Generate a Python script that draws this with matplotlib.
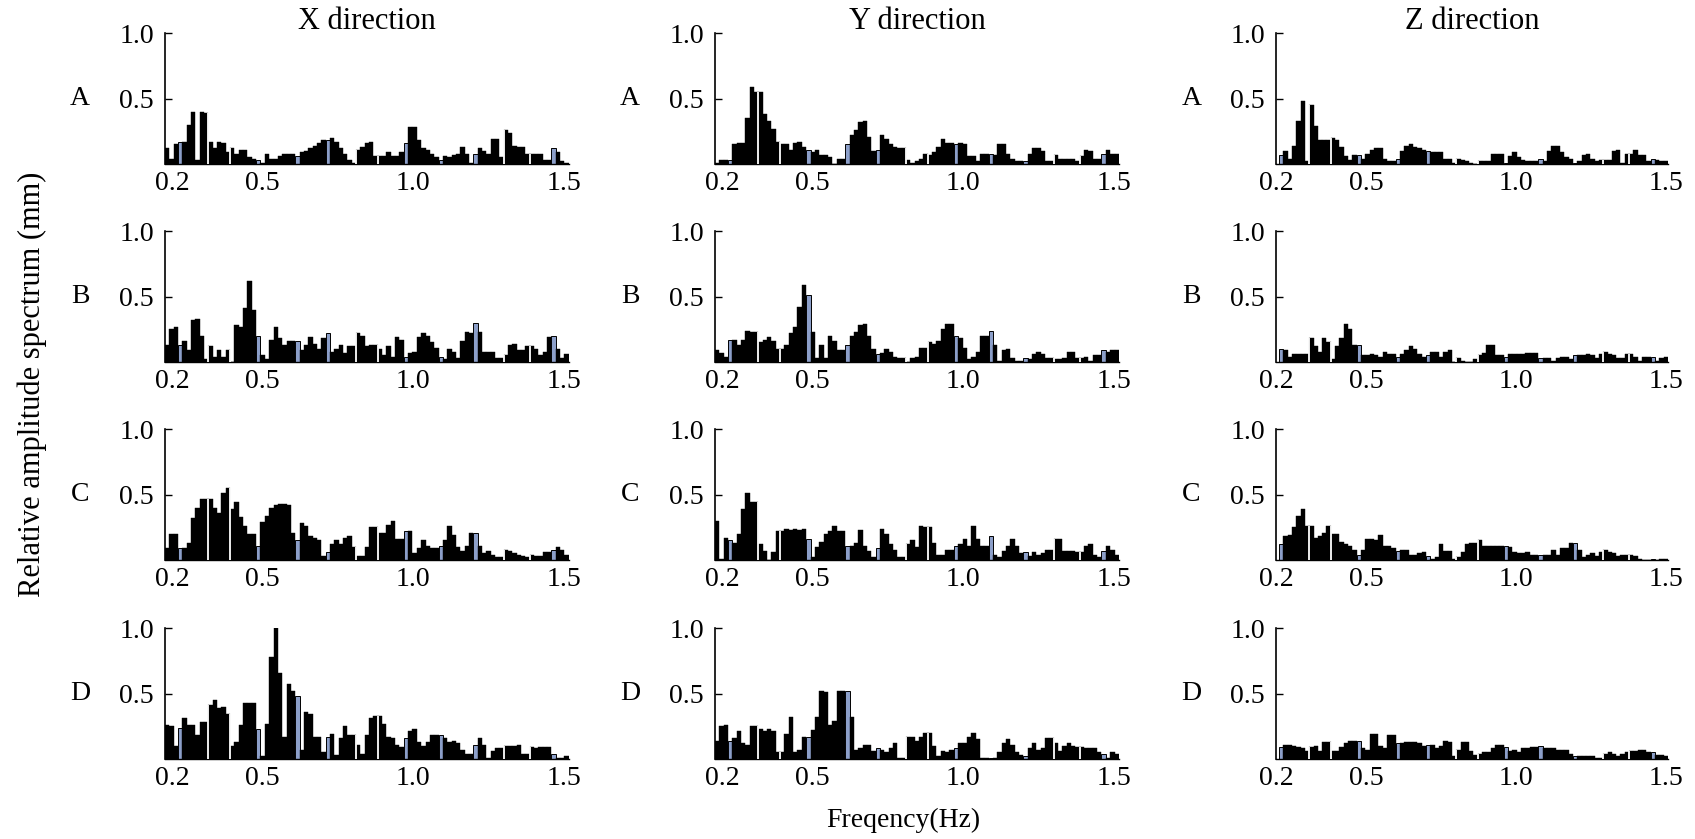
import numpy as np
import matplotlib
matplotlib.use('Agg')
import matplotlib.pyplot as plt

plt.rcParams['font.family'] = ['Liberation Serif', 'DejaVu Serif']

# Spectra, one list per panel (X/Y: 93 bins, Z: 90 bins)
x_a = [0.12, 0.04, 0.15, 0.17,
       0.17, 0.30, 0.40, 0.03, 0.40, 0.39, 0.17, 0.12, 0.17, 0.16, 0.09, 0.12, 0.08, 0.11, 0.11, 0.05, 0.04,
       0.03,
       0.01, 0.08, 0.04, 0.04, 0.06, 0.08, 0.08, 0.08,
       0.06,
       0.09, 0.10, 0.12, 0.14, 0.16, 0.18,
       0.18,
       0.20, 0.17, 0.12, 0.08, 0.03, 0.01, 0.11, 0.13, 0.16, 0.17, 0.06, 0.06, 0.06, 0.09, 0.06, 0.06, 0.09,
       0.16,
       0.28, 0.28, 0.18, 0.12, 0.11, 0.08, 0.05,
       0.03,
       0.06, 0.05, 0.07, 0.08, 0.13, 0.08, 0.01,
       0.08,
       0.12, 0.10, 0.08, 0.19, 0.19, 0.05, 0.26, 0.24, 0.14, 0.13, 0.13, 0.08, 0.08, 0.08, 0.08, 0.03, 0.03,
       0.12,
       0.09, 0.02, 0.01]
x_b = [0.13, 0.25, 0.27, 0.13,
       0.16, 0.09, 0.32, 0.33, 0.20, 0.02, 0.12, 0.04, 0.09, 0.04, 0.09, 0.00, 0.28, 0.27, 0.41, 0.62, 0.40,
       0.20,
       0.05, 0.02, 0.17, 0.27, 0.18, 0.13, 0.16, 0.16,
       0.16,
       0.09, 0.13, 0.19, 0.14, 0.10, 0.18,
       0.22,
       0.08, 0.10, 0.13, 0.07, 0.12, 0.12, 0.22, 0.20, 0.12, 0.13, 0.13, 0.10, 0.05, 0.12, 0.04, 0.19, 0.17,
       0.04,
       0.07, 0.08, 0.19, 0.22, 0.20, 0.15, 0.11,
       0.04,
       0.02, 0.10, 0.08, 0.03, 0.16, 0.23, 0.22,
       0.30,
       0.23, 0.08, 0.08, 0.08, 0.03, 0.03, 0.05, 0.13, 0.14, 0.09, 0.09, 0.12, 0.12, 0.10, 0.05, 0.08, 0.19,
       0.20,
       0.10, 0.03, 0.06]
x_c = [0.09, 0.20, 0.20, 0.09,
       0.09, 0.13, 0.32, 0.40, 0.47, 0.47, 0.47, 0.40, 0.36, 0.51, 0.55, 0.39, 0.44, 0.33, 0.26, 0.20, 0.20,
       0.11,
       0.29, 0.34, 0.40, 0.42, 0.43, 0.43, 0.42, 0.21,
       0.15,
       0.28, 0.26, 0.18, 0.17, 0.15, 0.03,
       0.06,
       0.12, 0.15, 0.12, 0.17, 0.18, 0.10, 0.03, 0.03, 0.10, 0.25, 0.25, 0.21, 0.21, 0.27, 0.30, 0.16, 0.16,
       0.22,
       0.22, 0.05, 0.09, 0.15, 0.11, 0.09, 0.09,
       0.11,
       0.15, 0.26, 0.19, 0.10, 0.07, 0.11, 0.21,
       0.21,
       0.11, 0.05, 0.07, 0.04, 0.02, 0.02, 0.08, 0.07, 0.05, 0.04, 0.03, 0.02, 0.04, 0.03, 0.03, 0.06, 0.06,
       0.08,
       0.10, 0.08, 0.04]
x_d = [0.26, 0.25, 0.10, 0.24,
       0.31, 0.26, 0.26, 0.18, 0.28, 0.28, 0.41, 0.45, 0.39, 0.40, 0.34, 0.10, 0.13, 0.26, 0.43, 0.43, 0.43,
       0.23,
       0.02, 0.27, 0.78, 1.00, 0.66, 0.17, 0.57, 0.52,
       0.48,
       0.07, 0.36, 0.34, 0.17, 0.17, 0.05,
       0.17,
       0.19, 0.03, 0.16, 0.25, 0.18, 0.18, 0.11, 0.04, 0.18, 0.31, 0.33, 0.33, 0.27, 0.17, 0.16, 0.11, 0.09,
       0.16,
       0.21, 0.23, 0.13, 0.10, 0.13, 0.18, 0.18,
       0.18,
       0.16, 0.13, 0.14, 0.12, 0.07, 0.04, 0.04,
       0.11,
       0.16, 0.11, 0.01, 0.06, 0.08, 0.08, 0.10, 0.10, 0.10, 0.11, 0.04, 0.04, 0.09, 0.08, 0.09, 0.09, 0.09,
       0.04,
       0.01, 0.01, 0.02]

y_a = [0.01, 0.03, 0.03, 0.03,
       0.15, 0.16, 0.16, 0.35, 0.59, 0.55, 0.55, 0.38, 0.33, 0.27, 0.17, 0.15, 0.15, 0.11, 0.16, 0.17, 0.13,
       0.11,
       0.09, 0.11, 0.07, 0.07, 0.05, 0.00, 0.04, 0.04,
       0.15,
       0.22, 0.26, 0.32, 0.33, 0.21, 0.10,
       0.11,
       0.22, 0.19, 0.15, 0.13, 0.12, 0.12, 0.03, 0.01, 0.02, 0.04, 0.08, 0.07, 0.09, 0.13, 0.19, 0.16, 0.16,
       0.15,
       0.16, 0.15, 0.06, 0.06, 0.02, 0.08, 0.08,
       0.08,
       0.07, 0.15, 0.15, 0.08, 0.04, 0.02, 0.02,
       0.02,
       0.08, 0.12, 0.12, 0.10, 0.02, 0.02, 0.07, 0.04, 0.04, 0.04, 0.04, 0.02, 0.06, 0.11, 0.10, 0.04, 0.04,
       0.08,
       0.11, 0.08, 0.08]
y_b = [0.09, 0.07, 0.04, 0.17,
       0.17, 0.13, 0.17, 0.24, 0.23, 0.23, 0.15, 0.17, 0.19, 0.16, 0.10, 0.10, 0.13, 0.22, 0.27, 0.42, 0.59,
       0.51,
       0.23, 0.03, 0.13, 0.03, 0.20, 0.16, 0.09, 0.09,
       0.13,
       0.20, 0.23, 0.28, 0.29, 0.20, 0.10,
       0.06,
       0.07, 0.10, 0.08, 0.04, 0.03, 0.03, 0.00, 0.03, 0.04, 0.11, 0.11, 0.15, 0.14, 0.16, 0.25, 0.29, 0.29,
       0.20,
       0.18, 0.11, 0.02, 0.04, 0.08, 0.20, 0.20,
       0.24,
       0.13, 0.01, 0.09, 0.10, 0.03, 0.01, 0.01,
       0.03,
       0.02, 0.06, 0.08, 0.06, 0.03, 0.03, 0.02, 0.02, 0.03, 0.08, 0.08, 0.03, 0.03, 0.04, 0.01, 0.05, 0.05,
       0.09,
       0.08, 0.09, 0.09]
y_c = [0.30, 0.01, 0.17, 0.15,
       0.13, 0.20, 0.39, 0.51, 0.44, 0.44, 0.12, 0.07, 0.00, 0.06, 0.22, 0.22, 0.24, 0.23, 0.24, 0.23, 0.24,
       0.16,
       0.02, 0.10, 0.14, 0.20, 0.22, 0.26, 0.22, 0.22,
       0.11,
       0.11, 0.13, 0.23, 0.11, 0.07, 0.02,
       0.09,
       0.24, 0.20, 0.12, 0.08, 0.02, 0.02, 0.12, 0.15, 0.10, 0.26, 0.25, 0.25, 0.13, 0.04, 0.04, 0.08, 0.08,
       0.11,
       0.12, 0.16, 0.11, 0.26, 0.16, 0.11, 0.11,
       0.18,
       0.04, 0.02, 0.07, 0.11, 0.16, 0.11, 0.05,
       0.06,
       0.03, 0.06, 0.04, 0.05, 0.08, 0.08, 0.16, 0.16, 0.07, 0.07, 0.07, 0.06, 0.06, 0.11, 0.12, 0.04, 0.02,
       0.07,
       0.11, 0.08, 0.04]
y_d = [0.14, 0.25, 0.26, 0.14,
       0.16, 0.21, 0.12, 0.11, 0.25, 0.25, 0.23, 0.21, 0.23, 0.21, 0.05, 0.05, 0.19, 0.32, 0.05, 0.07, 0.17,
       0.17,
       0.22, 0.32, 0.52, 0.51, 0.26, 0.29, 0.52, 0.52,
       0.52,
       0.32, 0.07, 0.08, 0.11, 0.11, 0.06,
       0.08,
       0.07, 0.05, 0.08, 0.12, 0.01, 0.01, 0.17, 0.17, 0.14, 0.17, 0.20, 0.20, 0.10, 0.02, 0.06, 0.05, 0.07,
       0.08,
       0.12, 0.12, 0.17, 0.20, 0.15, 0.01, 0.01,
       0.01,
       0.01, 0.05, 0.12, 0.15, 0.11, 0.05, 0.03,
       0.02,
       0.08, 0.12, 0.07, 0.08, 0.16, 0.16, 0.12, 0.06, 0.10, 0.12, 0.10, 0.09, 0.09, 0.08, 0.08, 0.08, 0.05,
       0.04,
       0.01, 0.05, 0.04]

z_a = [0.07,
       0.10, 0.04, 0.14, 0.33, 0.48, 0.02, 0.45, 0.29, 0.18, 0.18, 0.18, 0.20, 0.18, 0.13, 0.06, 0.03, 0.07,
       0.07,
       0.04, 0.08, 0.11, 0.12, 0.12, 0.04, 0.02, 0.02,
       0.04,
       0.10, 0.14, 0.15, 0.13, 0.12, 0.11,
       0.10,
       0.09, 0.09, 0.09, 0.04, 0.04, 0.01, 0.04, 0.03, 0.02, 0.01, 0.00, 0.02, 0.02, 0.02, 0.08, 0.08, 0.08,
       0.01,
       0.06, 0.09, 0.05, 0.03, 0.02, 0.02, 0.02,
       0.04,
       0.02, 0.10, 0.14, 0.14, 0.09, 0.05, 0.04,
       0.01,
       0.02, 0.07, 0.08, 0.04, 0.02, 0.03, 0.03, 0.03, 0.10, 0.11, 0.01, 0.08, 0.08, 0.11, 0.07, 0.07, 0.02,
       0.04,
       0.03, 0.02, 0.02]
z_b = [0.10,
       0.09, 0.04, 0.06, 0.06, 0.06, 0.06, 0.18, 0.12, 0.08, 0.18, 0.15, 0.02, 0.12, 0.18, 0.29, 0.25, 0.13,
       0.13,
       0.05, 0.05, 0.06, 0.05, 0.04, 0.08, 0.06, 0.06,
       0.04,
       0.06, 0.09, 0.12, 0.10, 0.06, 0.04,
       0.05,
       0.08, 0.08, 0.04, 0.08, 0.09, 0.00, 0.03, 0.01, 0.00, 0.00, 0.02, 0.05, 0.07, 0.13, 0.13, 0.05, 0.05,
       0.04,
       0.06, 0.06, 0.06, 0.06, 0.07, 0.07, 0.07,
       0.03,
       0.03, 0.03, 0.01, 0.03, 0.04, 0.04, 0.02,
       0.05,
       0.05, 0.05, 0.06, 0.05, 0.03, 0.06, 0.08, 0.06, 0.05, 0.03, 0.03, 0.06, 0.06, 0.04, 0.01, 0.04, 0.04,
       0.04,
       0.01, 0.03, 0.04]
z_c = [0.12,
       0.18, 0.19, 0.25, 0.34, 0.39, 0.26, 0.26, 0.17, 0.18, 0.21, 0.26, 0.20, 0.20, 0.14, 0.12, 0.11, 0.08,
       0.04,
       0.08, 0.16, 0.16, 0.15, 0.19, 0.11, 0.11, 0.09,
       0.07,
       0.08, 0.08, 0.04, 0.04, 0.05, 0.06,
       0.03,
       0.01, 0.02, 0.12, 0.07, 0.07, 0.01, 0.02, 0.06, 0.12, 0.13, 0.13, 0.15, 0.11, 0.11, 0.11, 0.11, 0.11,
       0.11,
       0.10, 0.06, 0.05, 0.05, 0.06, 0.04, 0.04,
       0.04,
       0.04, 0.04, 0.08, 0.04, 0.09, 0.09, 0.13,
       0.13,
       0.08, 0.02, 0.04, 0.05, 0.03, 0.06, 0.08, 0.06, 0.05, 0.03, 0.04, 0.04, 0.04, 0.03, 0.01, 0.00, 0.00,
       0.01,
       0.00, 0.01, 0.01]
z_d = [0.09,
       0.11, 0.11, 0.10, 0.09, 0.08, 0.06, 0.09, 0.10, 0.06, 0.13, 0.13, 0.06, 0.06, 0.09, 0.12, 0.14, 0.14,
       0.14,
       0.08, 0.07, 0.19, 0.19, 0.10, 0.08, 0.18, 0.18,
       0.12,
       0.12, 0.13, 0.13, 0.13, 0.12, 0.10,
       0.11,
       0.11, 0.08, 0.10, 0.14, 0.13, 0.02, 0.07, 0.13, 0.13, 0.06, 0.03, 0.04, 0.05, 0.05, 0.08, 0.11, 0.11,
       0.09,
       0.06, 0.07, 0.05, 0.08, 0.08, 0.09, 0.09,
       0.10,
       0.08, 0.08, 0.08, 0.07, 0.07, 0.07, 0.04,
       0.02,
       0.02, 0.02, 0.02, 0.02, 0.01, 0.01, 0.04, 0.05, 0.04, 0.02, 0.04, 0.05, 0.06, 0.06, 0.07, 0.07, 0.05,
       0.05,
       0.03, 0.03, 0.02]

directions = ['X direction', 'Y direction', 'Z direction']
sites = ['A', 'B', 'C', 'D']
spectra = [[x_a, y_a, z_a],
           [x_b, y_b, z_b],
           [x_c, y_c, z_c],
           [x_d, y_d, z_d]]

# bins drawn in blue and bins followed by a white seam, per column
blue_bins = [[3, 21, 30, 37, 55, 63, 71, 89],
             [3, 21, 30, 37, 55, 63, 71, 89],
             [0, 18, 27, 34, 52, 60, 68, 86]]
seam_bins = [[10, 15, 44, 49, 78, 84],
             [10, 15, 44, 49, 78, 84],
             [7, 12, 41, 46, 75, 81]]

freq_ticks = [0.2, 0.5, 1.0, 1.5]
freq_labels = ['0.2', '0.5', '1.0', '1.5']
amp_ticks = [0.5, 1.0]
amp_labels = ['0.5', '1.0']

# frequency of first bin in each column and bin width (Hz)
f_start = [0.184, 0.184, 0.217]
df = 0.0144

blue = '#8c9fc9'

fig = plt.figure(figsize=(16.95, 8.39), dpi=100)

col_left = [0.0973, 0.4218, 0.7528]
col_width = [0.2383, 0.2383, 0.2313]
row_bottom = [0.8045, 0.5685, 0.3325, 0.0954]
row_height = 0.156

for r in range(4):
    for c in range(3):
        ax = fig.add_axes([col_left[c], row_bottom[r], col_width[c], row_height])
        h = np.array(spectra[r][c])
        n = len(h)
        f = f_start[c] + df * np.arange(n)
        colors = [blue if i in blue_bins[c] else 'black' for i in range(n)]
        lws = [0.7 if i in blue_bins[c] else 0.3 for i in range(n)]
        ax.bar(f, h, width=df, color=colors, edgecolor='black', linewidth=lws, zorder=2)

        # thin white seams between some neighbouring bins
        for k in seam_bins[c]:
            ax.vlines(f[k] - df / 2, 0, max(h[k - 1], h[k]), color='white', lw=1.3, zorder=3)

        ax.set_xlim(f[0] - df / 2, f[-1] + df / 2)
        ax.set_ylim(0, 1.0)
        ax.set_xticks(freq_ticks)
        ax.set_xticklabels(freq_labels)
        ax.set_yticks(amp_ticks)
        ax.set_yticklabels(amp_labels)
        ax.tick_params(axis='x', length=0, pad=5, labelsize=20)
        ax.tick_params(axis='y', direction='in', length=5, width=1, pad=8, labelsize=20)
        for s in ['top', 'right']:
            ax.spines[s].set_visible(False)
        ax.spines['left'].set_linewidth(1.2)
        ax.spines['bottom'].set_linewidth(1.0)
        ax.patch.set_alpha(0)

        fig.text(col_left[c] - 0.05, row_bottom[r] + 0.5 * row_height, sites[r],
                 ha='center', va='center', fontsize=20)

for c in range(3):
    fig.text(col_left[c] + col_width[c] / 2, 0.974, directions[c],
             ha='center', va='center', fontsize=22)

fig.text(0.019, 0.542, 'Relative amplitude spectrum (mm)', rotation=90,
         ha='center', va='center', fontsize=22)
fig.text(0.533, 0.022, 'Freqency(Hz)', ha='center', va='center', fontsize=20)

fig.savefig('out.png', dpi=100)
